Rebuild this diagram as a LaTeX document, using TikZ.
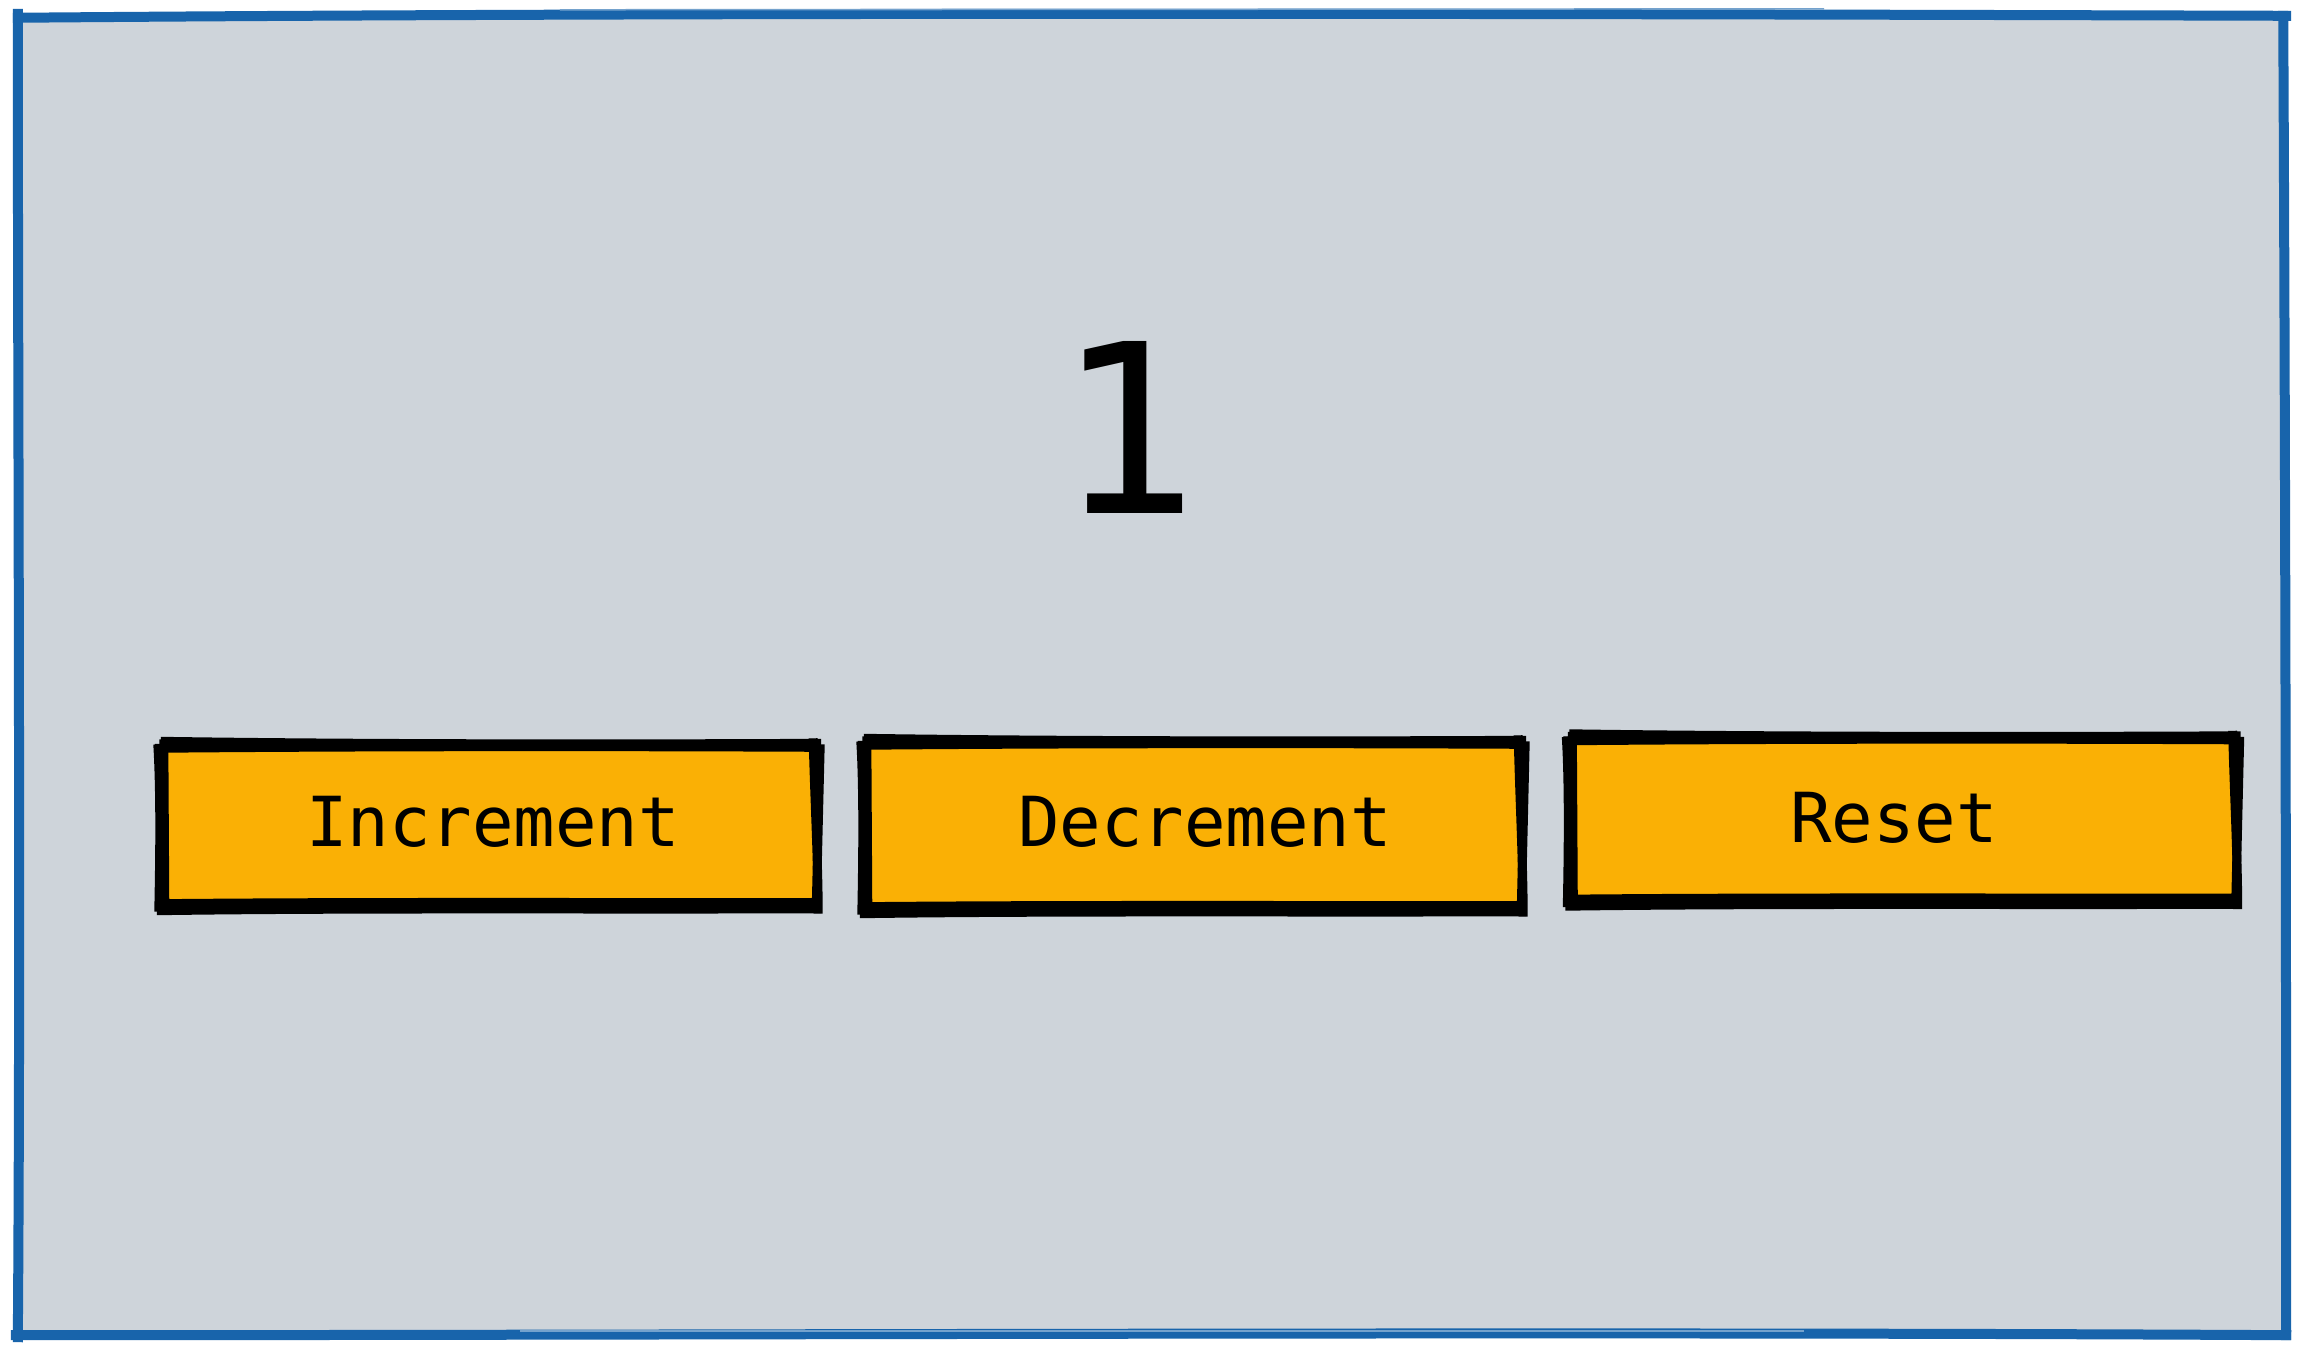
\documentclass[tikz,border=0pt]{standalone}
\usepackage{fontspec}
\setmonofont{DejaVu Sans Mono}
\definecolor{bg}{HTML}{CED4DA}
\definecolor{frameblue}{HTML}{1864AB}
\definecolor{btnfill}{HTML}{FAB005}
\tikzset{
  btnbox/.style={fill=btnfill, draw=none, inner sep=0pt},
  btntext/.style={inner sep=0pt, font=\fontsize{69}{80}\selectfont\ttfamily},
  sk/.style={draw=black, line width=9pt, line cap=butt},
  frm/.style={draw=frameblue, line width=10pt, line cap=butt},
  frmthin/.style={draw=frameblue!60, line width=1.5pt},
}
\newcommand\sketchbtn[1]{%
  \draw[sk] ([shift={(-2,-6)}]#1.north west) .. controls +(200,3) and +(-200,1) .. ([shift={(6,-4)}]#1.north east);
  \draw[sk] ([shift={(-8,1)}]#1.north west) .. controls +(200,-2) and +(-200,-1) .. ([shift={(2,0)}]#1.north east);
  \draw[sk] ([shift={(-2,-9)}]#1.north east) .. controls +(1,50) and +(0,-50) .. ([shift={(3,9)}]#1.south east);
  \draw[sk] ([shift={(5,-3)}]#1.north east) -- ([shift={(1,4)}]#1.south east);
  \draw[sk] ([shift={(-4,-1)}]#1.south west) .. controls +(200,-2) and +(-200,0) .. ([shift={(2,-2)}]#1.south east);
  \draw[sk] ([shift={(-6,6)}]#1.south west) .. controls +(200,-3) and +(-200,1) .. ([shift={(6,4)}]#1.south east);
  \draw[sk] ([shift={(-5,-3)}]#1.north west) .. controls +(3,50) and +(1,-50) .. ([shift={(-4,7)}]#1.south west);
  \draw[sk] ([shift={(1,-8)}]#1.north west) -- ([shift={(2,2)}]#1.south west);
}
\begin{document}
\begin{tikzpicture}[x=1pt,y=-1pt]
\useasboundingbox (0,0) rectangle (2304,1355);
\fill[white] (0,0) rectangle (2304,1355);

% frame
\node[fill=bg, inner sep=0pt, minimum width=2264pt, minimum height=1315pt] (frame) at (1152,675.5) {};
\draw[frm] ([shift={(-7,0)}]frame.north west) .. controls +(700,-6) and +(-700,-2) .. ([shift={(7,-2)}]frame.north east);
\draw[frmthin] ([shift={(540,-8)}]frame.north west) -- ([shift={(-460,-9)}]frame.north east);
\draw[frm] ([shift={(-1,-7)}]frame.north east) .. controls +(2,400) and +(0,-400) .. ([shift={(2,7)}]frame.south east);
\draw[frm] ([shift={(7,2)}]frame.south east) .. controls +(-700,-4) and +(700,0) .. ([shift={(-9,2)}]frame.south west);
\draw[frmthin] ([shift={(-480,-2)}]frame.south east) -- ([shift={(500,-2)}]frame.south west);
\draw[frm] ([shift={(-2,9)}]frame.south west) .. controls +(3,-400) and +(0,400) .. ([shift={(-2,-9)}]frame.north west);

% counter value
\node[inner sep=0pt, font=\fontsize{236}{240}\selectfont\ttfamily] (count) at (1128,427) {1};

% buttons
\node[btnbox, minimum width=652pt, minimum height=157pt] (inc) at (489,826) {};
\node[btnbox, minimum width=654pt, minimum height=163pt] (dec) at (1193,826) {};
\node[btnbox, minimum width=663pt, minimum height=160pt] (rst) at (1903,820) {};

\sketchbtn{inc}
\sketchbtn{dec}
\sketchbtn{rst}

\node[btntext] (inclabel) at ([shift={(4,-4)}]inc.center) {Increment};
\node[btntext] (declabel) at ([shift={(12,-4)}]dec.center) {Decrement};
\node[btntext] (rstlabel) at ([shift={(-9,-2)}]rst.center) {Reset};
\end{tikzpicture}
\end{document}
